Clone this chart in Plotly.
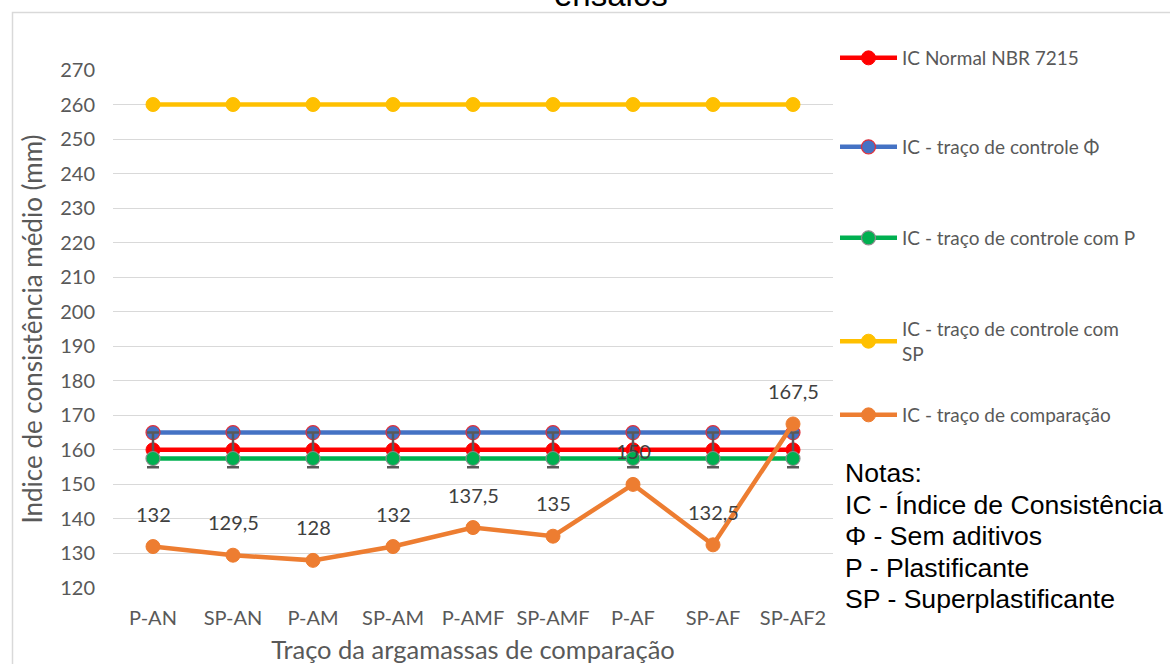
import plotly.graph_objects as go

categories = ["P-AN", "SP-AN", "P-AM", "SP-AM", "P-AMF", "SP-AMF", "P-AF", "SP-AF", "SP-AF2"]
ic_normal = [160] * 9
ic_controle = [165] * 9
ic_controle_p = [157.5] * 9
ic_controle_sp = [260] * 9
ic_comparacao = [132, 129.5, 128, 132, 137.5, 135, 150, 132.5, 167.5]
labels_comparacao = ["132", "129,5", "128", "132", "137,5", "135", "150", "132,5", "167,5"]
green_err_plus = [7.5] * 9
green_err_minus = [2.5] * 9
y_ticks = list(range(120, 271, 10))
notes = ["Notas:", "IC - Índice de Consistência", "Φ - Sem aditivos", "P - Plastificante", "SP - Superplastificante"]

W, H = 1170, 664
L, R, T, B = 113, 833, 70, 588
def px(x):
    return (x - L) / (R - L)
def py(y):
    return (B - y) / (B - T)

FONT = "Lato"
GREY = "#595959"

fig = go.Figure()
series = [
    ("IC Normal NBR 7215", ic_normal, "#FF0000", "#FF0000", 1, "legend"),
    ("IC - traço de controle Φ", ic_controle, "#4472C4", "#E0303A", 1.2, "legend2"),
    ("IC - traço de controle com P", ic_controle_p, "#00B050", "#8C8C8C", 1.2, "legend3"),
    ("IC - traço de controle com<br>SP", ic_controle_sp, "#FFC000", "#FFC000", 1, "legend4"),
    ("IC - traço de comparação", ic_comparacao, "#ED7D31", "#ED7D31", 1, "legend5"),
]
for name, vals, col, mline, mw, lg in series:
    kw = {}
    if name.startswith("IC - traço de controle com P"):
        kw["error_y"] = dict(type="data", symmetric=False, array=green_err_plus,
                             arrayminus=green_err_minus, color=GREY, thickness=2.5, width=6)
    fig.add_trace(go.Scatter(
        x=categories, y=vals, name=name, mode="lines+markers",
        line=dict(color=col, width=4.5),
        marker=dict(color=col, size=14, line=dict(color=mline, width=mw)),
        legend=lg, cliponaxis=False, **kw))

for c, v, t in zip(categories, ic_comparacao, labels_comparacao):
    fig.add_annotation(x=c, y=v, text=t, showarrow=False, yshift=33,
                       font=dict(family=FONT, size=20, color="#404040"))

legend_y = [58, 147, 238, 326, 415]
legends = {}
for i, yy in enumerate(legend_y):
    key = "legend" if i == 0 else f"legend{i+1}"
    legends[key] = dict(x=px(835), y=py(yy), xanchor="left", yanchor="middle",
                        bgcolor="rgba(0,0,0,0)", font=dict(family=FONT, size=19, color=GREY),
                        itemwidth=57, borderwidth=0, tracegroupgap=0)
# two-line legend: anchor top so first line aligns
legends["legend4"]["yanchor"] = "top"
legends["legend4"]["y"] = py(326 - 16)

for i, t in enumerate(notes):
    fig.add_annotation(xref="paper", yref="paper", x=px(843), y=py(473 + i * 31.5),
                       xanchor="left", yanchor="middle", text=t, showarrow=False,
                       font=dict(family="Liberation Sans", size=26.6, color="#000000"))

fig.add_annotation(xref="paper", yref="paper", x=px(611), y=py(15), xanchor="center", yanchor="bottom",
                   text="ensaios", showarrow=False,
                   font=dict(family="Liberation Sans", size=33, color="#000000"))

fig.add_shape(type="rect", xref="paper", yref="paper", x0=px(12.5), y0=py(700), x1=px(1200), y1=py(12.5),
              line=dict(color="#D9D9D9", width=1.5), fillcolor="rgba(0,0,0,0)", layer="below")

fig.update_layout(
    width=W, height=H,
    margin=dict(l=L, r=W - R, t=T, b=H - B),
    plot_bgcolor="white", paper_bgcolor="white",
    showlegend=True,
    **legends,
    xaxis=dict(type="category", range=[-0.5, 8.5], showgrid=False, showline=False, zeroline=False,
               automargin=False,
               ticks="", tickfont=dict(family=FONT, size=20, color=GREY), ticklabelstandoff=16,
               title=dict(text="Traço da argamassas de comparação", standoff=15,
                          font=dict(family=FONT, size=25.5, color=GREY))),
    yaxis=dict(range=[120, 270], tickvals=y_ticks, showgrid=True, gridcolor="#D9D9D9", gridwidth=1,
               zeroline=False, showline=False, ticks="", automargin=False,
               tickfont=dict(family=FONT, size=20, color=GREY), ticklabelstandoff=17,
               title=dict(text="Indice de consistência médio (mm)", standoff=10,
                          font=dict(family=FONT, size=26, color=GREY))),
)

fig.write_html("out.html")
